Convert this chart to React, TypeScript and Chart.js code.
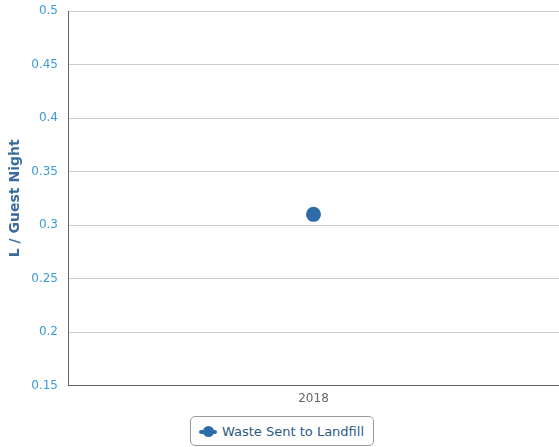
import React, { useEffect, useRef } from "react";
import { Chart, registerables } from "chart.js";

Chart.register(...registerables);

const categories: string[] = ["2018"];
const landfillValues: number[] = [0.31];
const seriesName = "Waste Sent to Landfill";
const yTitle = "L / Guest Night";
const yMin = 0.15;
const yMax = 0.5;
const yStep = 0.05;

const POINT_COLOR = "#2d6ca8";
const FONT = "'DejaVu Sans', Verdana, sans-serif";

export default function App() {
  const canvasRef = useRef<HTMLCanvasElement | null>(null);

  useEffect(() => {
    if (!canvasRef.current) return;
    const chart = new Chart(canvasRef.current, {
      type: "line",
      data: {
        labels: categories,
        datasets: [
          {
            label: seriesName,
            data: landfillValues,
            borderColor: POINT_COLOR,
            backgroundColor: POINT_COLOR,
            pointRadius: 6.5,
            pointHoverRadius: 6.5,
            borderWidth: 2,
          },
        ],
      },
      options: {
        animation: false,
        responsive: true,
        maintainAspectRatio: false,
        layout: { autoPadding: false, padding: 0 },
        plugins: {
          legend: { display: false },
          tooltip: { enabled: false },
        },
        scales: {
          x: {
            offset: true,
            grid: { display: false, drawTicks: false },
            border: { display: true, color: "#666666", width: 1 },
            ticks: {
              color: "#666666",
              padding: 6,
              font: { family: FONT, size: 12 },
            },
          },
          y: {
            min: yMin,
            max: yMax,
            afterFit: (s: any) => {
              s.width = 68;
              s.paddingTop = 11;
              s.paddingBottom = 0;
            },
            grid: { color: "#cccccc", drawTicks: false, lineWidth: 1 },
            border: { display: true, color: "#666666", width: 1 },
            ticks: {
              stepSize: yStep,
              color: "#3d9bd6",
              padding: 10,
              font: { family: FONT, size: 12 },
              callback: (v: any) => String(Math.round(Number(v) * 100) / 100),
            },
            title: {
              display: true,
              text: yTitle,
              color: "#3b6b9c",
              font: { family: FONT, size: 14, weight: "bold" },
              padding: { top: 7, bottom: 0 },
            },
          },
        },
      },
    });
    return () => chart.destroy();
  }, []);

  return (
    <div
      style={{
        position: "fixed",
        left: 0,
        top: 0,
        width: 559,
        height: 447,
        background: "#fff",
        fontFamily: FONT,
      }}
    >
      <div style={{ position: "relative", width: 559, height: 412 }}>
        <canvas ref={canvasRef} />
      </div>
      <div
        style={{
          position: "absolute",
          left: 190,
          top: 416,
          width: 184,
          height: 30,
          boxSizing: "border-box",
          border: "1px solid #999999",
          borderRadius: 5,
          display: "flex",
          alignItems: "center",
          paddingLeft: 8,
        }}
      >
        <div style={{ position: "relative", width: 18, height: 11, marginRight: 5, flexShrink: 0 }}>
          <div
            style={{
              position: "absolute",
              left: 0,
              top: 4,
              width: 18,
              height: 4,
              borderRadius: 2,
              background: POINT_COLOR,
            }}
          />
          <div
            style={{
              position: "absolute",
              left: 3.5,
              top: 0,
              width: 11,
              height: 11,
              borderRadius: "50%",
              background: POINT_COLOR,
            }}
          />
        </div>
        <span style={{ fontSize: 13, color: "#2b5a87", whiteSpace: "nowrap" }}>{seriesName}</span>
      </div>
    </div>
  );
}
